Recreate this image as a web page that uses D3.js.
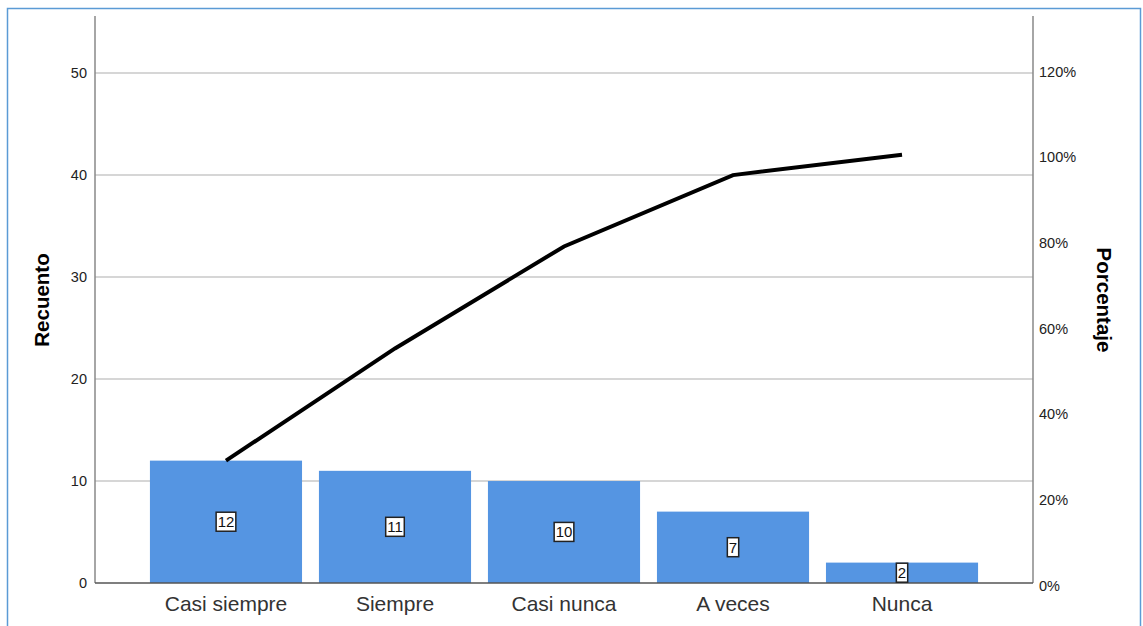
<!DOCTYPE html>
<html>
<head>
<meta charset="utf-8">
<script src="https://cdn.jsdelivr.net/npm/d3@7"></script>
<style>
  html, body { margin: 0; padding: 0; background: #fff; }
  svg { display: block; font-family: "Liberation Sans", Arial, sans-serif; }
</style>
</head>
<body>
<svg id="chart" width="1143" height="626"></svg>
<script>
const categories = ["Casi siempre", "Siempre", "Casi nunca", "A veces", "Nunca"];
const counts = [12, 11, 10, 7, 2];
const leftTicks = [0, 10, 20, 30, 40, 50];
const rightTicks = [0, 20, 40, 60, 80, 100, 120];

const svg = d3.select("#chart");
const m = { left: 95, right: 1033, top: 16, bottom: 583 };
const total = d3.sum(counts);
const cumulative = d3.cumsum(counts);
const yMax = 55.6;

// frame
svg.append("rect").attr("x", 7.5).attr("y", 8.5).attr("width", 1133).attr("height", 640)
  .attr("fill", "none").attr("stroke", "#5b9bd5").attr("stroke-width", 1.5);

const x = d3.scaleBand().domain(categories).range([m.left, m.right])
  .paddingInner(0.1).paddingOuter(0.325);
const y = d3.scaleLinear().domain([0, yMax]).range([m.bottom, m.top]);
const y2 = d3.scaleLinear().domain([0, yMax / total * 100]).range([m.bottom, m.top]);

// gridlines
svg.append("g").selectAll("line").data(leftTicks.filter(d => d > 0)).join("line")
  .attr("x1", m.left).attr("x2", m.right)
  .attr("y1", d => y(d)).attr("y2", d => y(d))
  .attr("stroke", "#c8c8c8").attr("stroke-width", 1.5);

// bars
svg.append("g").selectAll("rect").data(counts).join("rect")
  .attr("x", (d, i) => x(categories[i]))
  .attr("width", x.bandwidth())
  .attr("y", d => y(d))
  .attr("height", d => y(0) - y(d))
  .attr("fill", "#5595e2");

// axes
const leftAxis = d3.axisLeft(y).tickValues(leftTicks).tickSize(0).tickPadding(8);
const gL = svg.append("g").attr("transform", `translate(${m.left},0)`).call(leftAxis);
gL.select(".domain").remove();
gL.selectAll("text").attr("font-size", 14.5).attr("fill", "#222").attr("font-family", "Liberation Sans, Arial, sans-serif");
svg.append("line").attr("x1", m.left).attr("x2", m.left).attr("y1", m.top).attr("y2", m.bottom)
  .attr("stroke", "#888").attr("stroke-width", 1.5);

const rightAxis = d3.axisRight(y2).tickValues(rightTicks).tickSize(0).tickPadding(6).tickFormat(d => d + "%");
const gR = svg.append("g").attr("transform", `translate(${m.right},0)`).call(rightAxis);
gR.select(".domain").remove();
gR.selectAll("text").attr("font-size", 14.5).attr("fill", "#222").attr("dy", "0.5em").attr("font-family", "Liberation Sans, Arial, sans-serif");
svg.append("line").attr("x1", m.right).attr("x2", m.right).attr("y1", m.top).attr("y2", m.bottom)
  .attr("stroke", "#888").attr("stroke-width", 1.5);

// x axis
svg.append("line").attr("x1", m.left).attr("x2", m.right).attr("y1", m.bottom).attr("y2", m.bottom)
  .attr("stroke", "#555").attr("stroke-width", 1.5);
const xAxis = d3.axisBottom(x).tickSize(0).tickPadding(13);
const gX = svg.append("g").attr("transform", `translate(0,${m.bottom})`).call(xAxis);
gX.select(".domain").remove();
gX.selectAll("text").attr("font-size", 21).attr("fill", "#333").attr("font-family", "Liberation Sans, Arial, sans-serif");

// cumulative line
const line = d3.line().x((d, i) => x(categories[i]) + x.bandwidth() / 2).y(d => y(d));
svg.append("path").datum(cumulative).attr("d", line)
  .attr("fill", "none").attr("stroke", "#000").attr("stroke-width", 4);

// value labels
const lab = svg.append("g").selectAll("g").data(counts).join("g")
  .attr("transform", (d, i) => `translate(${x(categories[i]) + x.bandwidth() / 2},${y(d / 2)})`);
lab.append("text").attr("text-anchor", "middle").attr("dy", "0.36em")
  .attr("font-size", 15).attr("fill", "#111").text(d => d);
lab.each(function() {
  const g = d3.select(this);
  const bb = g.select("text").node().getBBox();
  g.insert("rect", "text").attr("x", bb.x - 1.5).attr("y", bb.y - 1)
    .attr("width", bb.width + 3).attr("height", bb.height + 2)
    .attr("fill", "#fff").attr("stroke", "#222").attr("stroke-width", 1.5);
});

// axis titles
svg.append("text").attr("transform", `translate(49,300) rotate(-90)`)
  .attr("text-anchor", "middle").attr("font-size", 20.5).attr("font-weight", "bold").attr("fill", "#000")
  .text("Recuento");
svg.append("text").attr("transform", `translate(1097,300) rotate(90)`)
  .attr("text-anchor", "middle").attr("font-size", 20.5).attr("font-weight", "bold").attr("fill", "#000")
  .text("Porcentaje");
</script>
</body>
</html>
